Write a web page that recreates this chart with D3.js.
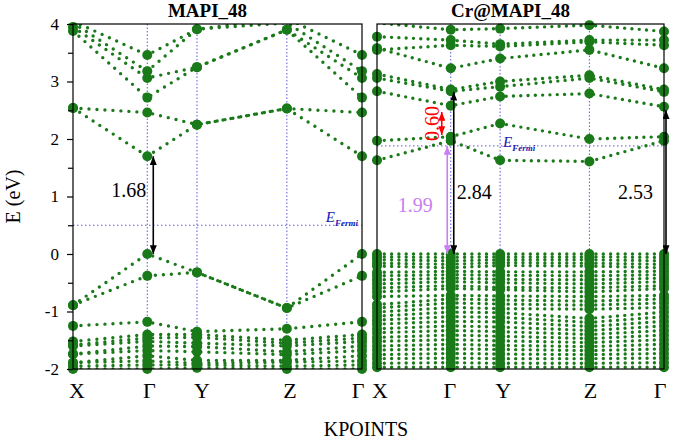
<!DOCTYPE html>
<html>
<head>
<meta charset="utf-8">
<script src="https://cdn.jsdelivr.net/npm/d3@7"></script>
<style>
  body { margin: 0; background: #fff; }
  svg, text { font-family: "Liberation Serif", "Times New Roman", serif; }
</style>
</head>
<body>
<div id="container"></div>
<script>
const width = 675;
const height = 440;

// k-path (fractional distance along the path) and labels
const kLabels = ["X", "Γ", "Y", "Z", "Γ"];
const kPos = [0, 0.257, 0.429, 0.74, 1];
const yTicks = [-2, -1, 0, 1, 2, 3, 4];
const yMinorTicks = [-1.5, -0.5, 0.5, 1.5, 2.5, 3.5];

// MAPI_48 bands: energy (eV) at X, Γ, Y, Z, Γ
const mapiBands = [
  [2.54, 1.70, 2.25, 2.53, 1.70],
  [2.54, 2.46, 2.25, 2.53, 2.46],
  [3.88, 2.72, 3.25, 3.90, 2.72],
  [3.95, 3.06, 3.25, 3.90, 3.06],
  [4.02, 3.18, 3.91, 4.02, 3.18],
  [4.05, 3.46, 3.91, 4.10, 3.46],
  [-0.89, 0.00, -0.32, -0.94, 0.00],
  [-0.89, -0.38, -0.32, -0.94, -0.38],
  [-1.25, -1.18, -1.35, -1.30, -1.18],
  [-1.52, -1.40, -1.40, -1.50, -1.40],
  [-1.58, -1.46, -1.45, -1.55, -1.46],
  [-1.60, -1.52, -1.55, -1.60, -1.52],
  [-1.74, -1.60, -1.61, -1.70, -1.60],
  [-1.74, -1.68, -1.70, -1.75, -1.68],
  [-1.89, -1.77, -1.85, -1.85, -1.77],
  [-1.89, -1.86, -1.90, -1.88, -1.86],
  [-1.95, -1.93, -1.93, -1.95, -1.93],
  [-2.00, -2.00, -1.98, -2.00, -2.00]
];

// Cr@MAPI_48 bands
const crBands = [
  [1.63, 1.97, 1.63, 1.61, 1.97],
  [1.97, 2.04, 2.27, 2.00, 2.04],
  [2.83, 2.58, 2.74, 2.79, 2.56],
  [3.06, 2.83, 2.91, 3.06, 2.82],
  [3.13, 2.86, 3.00, 3.11, 2.86],
  [3.58, 3.23, 3.40, 3.55, 3.23],
  [3.55, 3.63, 3.61, 3.69, 3.63],
  [3.78, 3.72, 3.65, 3.72, 3.72],
  [4.02, 3.90, 3.92, 3.98, 3.87],
  [0.00, 0.00, 0.00, 0.00, 0.00],
  [-0.05, -0.06, -0.05, -0.05, -0.06],
  [-0.10, -0.12, -0.10, -0.10, -0.12],
  [-0.16, -0.18, -0.15, -0.16, -0.18],
  [-0.21, -0.24, -0.20, -0.21, -0.24],
  [-0.32, -0.30, -0.31, -0.31, -0.30],
  [-0.38, -0.36, -0.37, -0.38, -0.36],
  [-0.45, -0.42, -0.44, -0.45, -0.42],
  [-0.52, -0.48, -0.50, -0.52, -0.48],
  [-0.59, -0.55, -0.58, -0.59, -0.55],
  [-0.66, -0.60, -0.62, -0.66, -0.60],
  [-0.74, -0.72, -0.73, -0.74, -0.72],
  [-0.88, -0.78, -0.80, -0.82, -0.78],
  [-0.94, -0.85, -0.87, -0.89, -0.85],
  [-1.01, -0.93, -0.95, -0.96, -0.93],
  [-1.08, -1.01, -1.02, -1.12, -1.01],
  [-1.15, -1.09, -1.10, -1.19, -1.09],
  [-1.22, -1.17, -1.18, -1.26, -1.17],
  [-1.30, -1.25, -1.27, -1.33, -1.25],
  [-1.37, -1.33, -1.35, -1.40, -1.33],
  [-1.45, -1.41, -1.43, -1.47, -1.41],
  [-1.52, -1.49, -1.51, -1.54, -1.49],
  [-1.60, -1.57, -1.59, -1.61, -1.57],
  [-1.67, -1.65, -1.66, -1.68, -1.65],
  [-1.75, -1.73, -1.74, -1.75, -1.73],
  [-1.82, -1.81, -1.82, -1.82, -1.81],
  [-1.90, -1.89, -1.90, -1.90, -1.89],
  [-1.97, -1.97, -1.97, -1.97, -1.97]
];

const mapiFermi = 0.5;
const crFermi = 1.88;

// gap arrows: k index, from / to energy, label
const mapiGapK = [1];
const mapiGapFrom = [0];
const mapiGapTo = [1.70];
const mapiGapLabels = ["1.68"];

const crGapK = [1, 1, 1, 4];
const crGapFrom = [0, 0, 2.07, 0];
const crGapTo = [2.82, 1.88, 2.47, 2.50];
const crGapLabels = ["2.84", "1.99", "0.60", "2.53"];

const green = "#1a7a1a";
const guide = "#5858e0";

const svg = d3.select("#container")
              .append("svg")
              .attr("width", width)
              .attr("height", height)
              .style("background", "#fff");

const defs = svg.append("defs");
const markerColors = {black: "#000", violet: "#c97ef2", red: "#ff0000"};
Object.entries(markerColors).forEach(([name, c]) => {
  defs.append("marker")
      .attr("id", "head-" + name)
      .attr("viewBox", "0 0 10 8")
      .attr("refX", 10)
      .attr("refY", 4)
      .attr("markerUnits", "userSpaceOnUse")
      .attr("markerWidth", 9)
      .attr("markerHeight", 7)
      .attr("orient", "auto-start-reverse")
      .append("path")
      .attr("d", "M0,0 L10,4 L0,8 Z")
      .attr("fill", c);
});

const y = d3.scaleLinear().domain([-2, 4]).range([369, 24]);

const panels = [
  {
    id: "mapi", title: "MAPI_48", x0: 73, x1: 362, step: 8,
    bands: mapiBands, fermi: mapiFermi,
    gapK: mapiGapK, gapFrom: mapiGapFrom, gapTo: mapiGapTo, gapLabels: mapiGapLabels,
    // arrow styles: colour, x offset, label x offset, label energy, anchor, rotate
    gapStyle: [{c: "black", dx: 6, lx: -1, le: 1.0, anchor: "end"}],
    fermiLabel: {anchor: "end", x: 4, dx: -4, dy: -3},
    labelNudge: [4, 2, 5, 3, -4],
    axis: true
  },
  {
    id: "cr", title: "Cr@MAPI_48", x0: 377, x1: 664, step: 7.3,
    bands: crBands, fermi: crFermi,
    gapK: crGapK, gapFrom: crGapFrom, gapTo: crGapTo, gapLabels: crGapLabels,
    gapStyle: [
      {c: "black", dx: 3, lx: 6, le: 0.95, anchor: "start"},
      {c: "violet", dx: -3.5, lx: -18, le: 0.73, anchor: "end"},
      {c: "red", dx: -9, lx: -19, le: 2.27, anchor: "middle", rotate: true},
      {c: "black", dx: 2, lx: -11, le: 0.95, anchor: "end"}
    ],
    fermiLabel: {anchor: "start", x: 2, dx: 3, dy: 1},
    labelNudge: [3, -1, 3, 1, -4],
    axis: false
  }
];

panels.forEach(p => {
  const x = d3.scaleLinear().domain([0, 1]).range([p.x0, p.x1]);
  const g = svg.append("g").attr("id", p.id);

  g.append("clipPath")
   .attr("id", "clip-" + p.id)
   .append("rect")
   .attr("x", p.x0).attr("y", y(4))
   .attr("width", p.x1 - p.x0).attr("height", y(-2) - y(4));

  // high-symmetry guide lines
  g.append("g").selectAll("line")
   .data(kPos.slice(1, -1))
   .join("line")
   .attr("x1", d => x(d)).attr("x2", d => x(d))
   .attr("y1", y(4)).attr("y2", y(-2))
   .attr("stroke", guide).attr("stroke-width", 1)
   .attr("stroke-dasharray", "1.5 2");

  // Fermi level
  g.append("line")
   .attr("x1", p.x0).attr("x2", p.x1)
   .attr("y1", y(p.fermi)).attr("y2", y(p.fermi))
   .attr("stroke", guide).attr("stroke-width", 1)
   .attr("stroke-dasharray", "1.5 2.5");

  const fl = p.fermiLabel;
  const ft = g.append("text")
   .attr("x", x(kPos[fl.x]) + fl.dx)
   .attr("y", y(p.fermi) + fl.dy)
   .attr("text-anchor", fl.anchor)
   .attr("fill", "#2020b0");
  ft.append("tspan").attr("font-style", "italic").attr("font-size", 15).text("E");
  ft.append("tspan").attr("font-style", "italic").attr("font-weight", "bold")
    .attr("font-size", 9).attr("dy", 4).text("Fermi");

  // bands: dotted lines
  const line = d3.line().x(d => x(d[0])).y(d => y(d[1]));
  g.append("g")
   .attr("clip-path", "url(#clip-" + p.id + ")")
   .selectAll("path")
   .data(p.bands)
   .join("path")
   .attr("d", b => line(b.map((e, i) => [kPos[i], e])))
   .attr("fill", "none")
   .attr("stroke", green)
   .attr("stroke-width", 3.4)
   .attr("stroke-linecap", "round")
   .attr("stroke-dasharray", "0 " + p.step);

  // big dots at high-symmetry points
  const pts = [];
  p.bands.forEach(b => b.forEach((e, i) => { if (e <= 3.99) pts.push([kPos[i], e]); }));
  g.append("g").selectAll("circle")
   .data(pts)
   .join("circle")
   .attr("cx", d => x(d[0]))
   .attr("cy", d => y(d[1]))
   .attr("r", 5)
   .attr("fill", green);

  // gap arrows
  p.gapK.forEach((k, i) => {
    const s = p.gapStyle[i];
    const col = markerColors[s.c];
    const ax = x(kPos[k]) + s.dx;
    g.append("line")
     .attr("x1", ax).attr("x2", ax)
     .attr("y1", y(p.gapFrom[i])).attr("y2", y(p.gapTo[i]))
     .attr("stroke", col).attr("stroke-width", 1.6)
     .attr("marker-start", "url(#head-" + s.c + ")")
     .attr("marker-end", "url(#head-" + s.c + ")");
    const lx = x(kPos[k]) + s.lx;
    const t = g.append("text")
     .attr("fill", col)
     .attr("font-size", 20)
     .text(p.gapLabels[i]);
    if (s.rotate) {
      t.attr("text-anchor", "middle")
       .attr("dominant-baseline", "central")
       .attr("transform", "translate(" + lx + "," + y(s.le) + ") rotate(-90)");
    } else {
      t.attr("x", lx).attr("y", y(s.le)).attr("text-anchor", s.anchor);
    }
  });

  // frame
  g.append("rect")
   .attr("x", p.x0).attr("y", y(4))
   .attr("width", p.x1 - p.x0).attr("height", y(-2) - y(4))
   .attr("fill", "none").attr("stroke", "#000").attr("stroke-width", 1.2);

  // title
  g.append("text")
   .attr("x", (p.x0 + p.x1) / 2 - 10).attr("y", 17)
   .attr("text-anchor", "middle")
   .attr("font-weight", "bold").attr("font-size", 19)
   .text(p.title);

  // k labels
  g.append("g").selectAll("text")
   .data(kLabels)
   .join("text")
   .attr("x", (d, i) => x(kPos[i]) + p.labelNudge[i])
   .attr("y", 398)
   .attr("text-anchor", "middle")
   .attr("font-size", 22)
   .text(d => d);

  if (p.axis) {
    const major = g.append("g")
     .attr("transform", "translate(" + p.x0 + ",0)")
     .call(d3.axisLeft(y).tickValues(yTicks).tickSize(6).tickPadding(8)
             .tickFormat(d => d < 0 ? "-" + Math.abs(d) : d));
    major.attr("font-family", null);
    major.select(".domain").remove();
    major.selectAll("text").attr("font-size", 17);
    major.selectAll("line").attr("stroke-width", 1.2);
    const minor = g.append("g")
     .attr("transform", "translate(" + p.x0 + ",0)")
     .call(d3.axisLeft(y).tickValues(yMinorTicks).tickSize(5).tickFormat(""));
    minor.select(".domain").remove();
    minor.selectAll("line").attr("stroke-width", 1.2);
  }
});

svg.append("text")
   .attr("transform", "translate(20," + ((y(4) + y(-2)) / 2) + ") rotate(-90)")
   .attr("text-anchor", "middle")
   .attr("font-size", 20)
   .text("E (eV)");

svg.append("text")
   .attr("x", 366).attr("y", 436)
   .attr("text-anchor", "middle")
   .attr("font-size", 20)
   .text("KPOINTS");
</script>
</body>
</html>
